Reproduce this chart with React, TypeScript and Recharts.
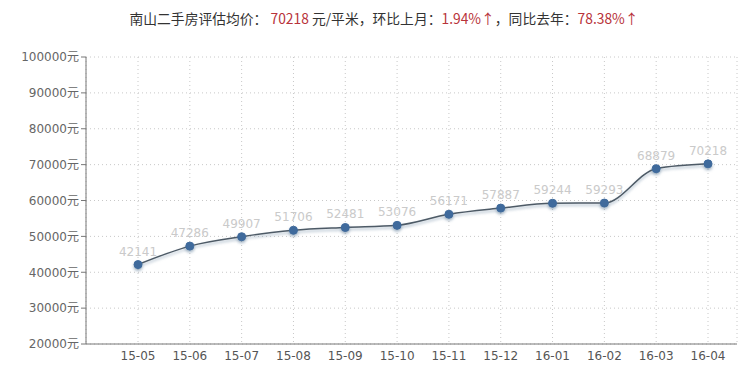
import React from "react";
import { LineChart, Line, XAxis, YAxis, CartesianGrid, LabelList } from "recharts";

const months = ["15-05", "15-06", "15-07", "15-08", "15-09", "15-10", "15-11", "15-12", "16-01", "16-02", "16-03", "16-04"];
const prices = [42141, 47286, 49907, 51706, 52481, 53076, 56171, 57887, 59244, 59293, 68879, 70218];
const yTicks = [20000, 30000, 40000, 50000, 60000, 70000, 80000, 90000, 100000];

const data = months.map((m, i) => ({ month: m, price: prices[i] }));

const red = "#b8333a";
const grey = "#333";

export default function App() {
  return (
    <div style={{ position: "absolute", left: 0, top: 0, width: 750, height: 374, background: "#fff" }}>
      <div
        style={{
          position: "absolute",
          left: 9,
          top: 9,
          width: 750,
          textAlign: "center",
          fontFamily: "'Noto Sans CJK SC', sans-serif",
          fontSize: 13.8,
          color: grey,
          lineHeight: "18px",
          whiteSpace: "nowrap",
        }}
      >
        南山二手房评估均价：<span style={{ color: red }}> 70218</span> 元/平米，环比上月：
        <span style={{ color: red }}>1.94%↑</span>，同比去年：<span style={{ color: red }}>78.38%↑</span>
      </div>
      <LineChart width={750} height={374} data={data} margin={{ top: 57, right: 13, bottom: 0, left: 0 }}>
        <CartesianGrid stroke="#c8c8c8" strokeDasharray="1 3" />
        <XAxis
          dataKey="month"
          padding={{ left: 52, right: 29 }}
          stroke="#777"
          tickLine={false}
          height={30}
          tick={{ fill: "#555", fontSize: 12, fontFamily: "'DejaVu Sans', sans-serif" }}
          tickMargin={1}
        />
        <YAxis
          domain={[20000, 100000]}
          ticks={yTicks}
          width={86}
          stroke="#777"
          tickSize={5}
          tickFormatter={(v: number) => `${v}元`}
          tick={{ fill: "#666", fontSize: 12, fontFamily: "'DejaVu Sans', 'Noto Sans CJK SC', sans-serif" }}
          interval={0}
        />
        <Line
          type="monotone"
          dataKey="price"
          stroke="#4d5a66"
          strokeWidth={1.5}
          isAnimationActive={false}
          style={{ filter: "drop-shadow(0px 2px 1.5px rgba(90,120,150,0.55))" }}
          dot={{ r: 4, fill: "#3f6a9c", stroke: "#3f6a9c", strokeWidth: 1 }}
        >
          <LabelList
            dataKey="price"
            position="top"
            offset={9}
            fill="#cacaca"
            fontSize={12}
            fontFamily="'DejaVu Sans', sans-serif"
          />
        </Line>
      </LineChart>
    </div>
  );
}
